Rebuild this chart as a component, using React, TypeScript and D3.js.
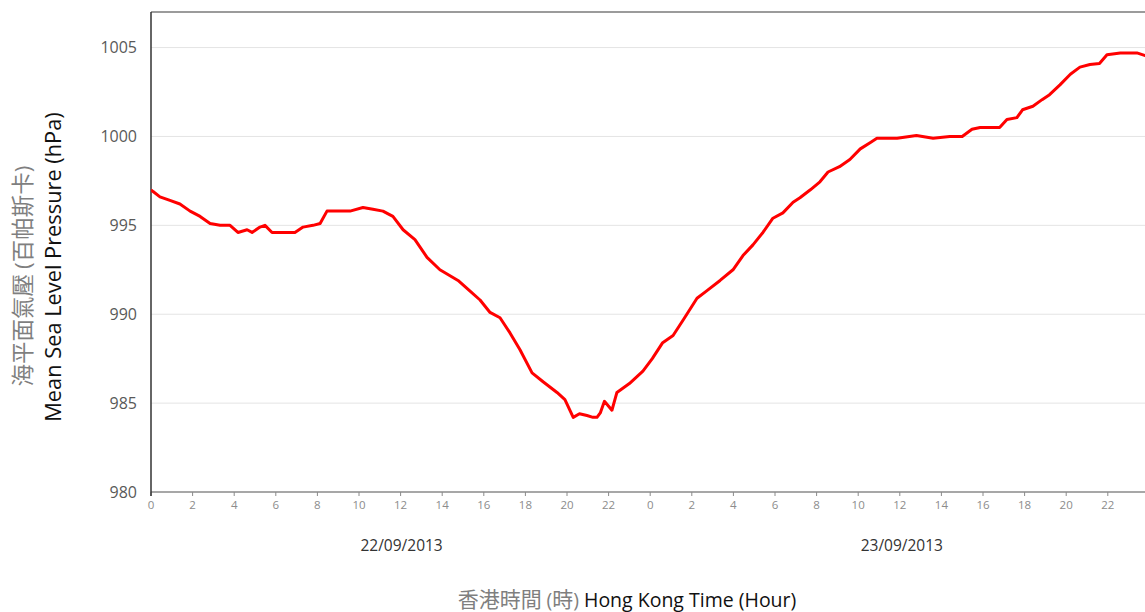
import React from "react";
import * as d3 from "d3";

// Hours since 00:00 22/09/2013 (HKT)
const hours = [
  0, 0.1, 0.43, 0.91, 1.39, 1.88, 2.36, 2.84, 3.32, 3.8, 4.18, 4.62, 4.86, 5.24, 5.48, 5.82, 6.35, 6.92, 7.31, 7.79, 8.13, 8.46, 8.94, 9.57, 10.19, 10.67, 11.15, 11.63, 12.12,
  12.69, 13.27, 13.89, 14.76, 15.34, 15.82, 16.3, 16.78, 17.26, 17.74, 18.32, 18.85, 19.52, 19.9, 20.3, 20.6, 20.96, 21.25, 21.44, 21.6, 21.8, 22.16, 22.4,
  23.0, 23.65, 24.1, 24.6, 25.1, 25.6, 26.25, 26.7, 27.36, 27.98, 28.46, 28.94, 29.42, 29.9, 30.38, 30.87, 31.2, 31.7, 32.16, 32.55, 33.1, 33.6, 34.1, 34.57, 34.9,
  35.87, 36.8, 37.6, 38.4, 39.0, 39.47, 39.86, 40.3, 40.8, 41.15, 41.63, 41.9, 42.4, 42.84, 43.2, 43.7, 44.2, 44.66, 45.14, 45.6, 45.96, 46.6, 47.4, 47.8, 48,
];
const pressure = [
  997.0, 996.9, 996.6, 996.4, 996.2, 995.8, 995.5, 995.1, 995.0, 995.0, 994.6, 994.75, 994.6, 994.9, 995.0, 994.6, 994.6, 994.6, 994.9, 995.0, 995.1, 995.8, 995.8, 995.8, 996.0, 995.9, 995.8, 995.5, 994.75,
  994.2, 993.2, 992.5, 991.9, 991.3, 990.8, 990.1, 989.8, 988.95, 988.0, 986.7, 986.2, 985.6, 985.2, 984.2, 984.4, 984.3, 984.2, 984.2, 984.45, 985.1, 984.6, 985.6,
  986.1, 986.8, 987.5, 988.4, 988.8, 989.7, 990.9, 991.3, 991.9, 992.5, 993.3, 993.9, 994.6, 995.4, 995.7, 996.3, 996.55, 997.0, 997.45, 998.0, 998.3, 998.7, 999.3, 999.65, 999.9,
  999.9, 1000.05, 999.9, 1000.0, 1000.0, 1000.4, 1000.5, 1000.5, 1000.5, 1000.95, 1001.06, 1001.5, 1001.7, 1002.07, 1002.35, 1002.9, 1003.5, 1003.9, 1004.05, 1004.1, 1004.6, 1004.7, 1004.7, 1004.55, 1004.55,
];

const yTicks = [980, 985, 990, 995, 1000, 1005];
const xTickHours = d3.range(0, 24, 2); // labels within each day
const days = [0, 1];
const dateLabels = ["22/09/2013", "23/09/2013"];

const W = 1145;
const H = 612;
const left = 151;
const top = 12;
const bottom = 492;

export default function App() {
  const x = d3.scaleLinear().domain([0, 48]).range([left, left + 48 * 20.8]);
  const y = d3.scaleLinear().domain([980, 1007]).range([bottom, top]);
  const pts = hours.map((h, i) => [h, pressure[i]] as [number, number]);
  const line = d3
    .line<[number, number]>()
    .x((d) => x(d[0]))
    .y((d) => y(d[1]))
    .curve(d3.curveLinear);

  const font = "'Open Sans', 'Liberation Sans', sans-serif";
  const cjk = "'Noto Sans CJK TC', 'Noto Sans', sans-serif";

  return (
    <div style={{ position: "absolute", left: 0, top: 0 }}>
      <svg width={W} height={H} style={{ display: "block", background: "#fff" }}>
        <defs>
          <clipPath id="plotclip">
            <rect x={left} y={top} width={W - left} height={bottom - top} />
          </clipPath>
        </defs>
        {/* gridlines */}
        {yTicks.slice(1).map((t) => (
          <line key={t} x1={left} x2={W} y1={y(t)} y2={y(t)} stroke="#e4e4e4" strokeWidth={1} />
        ))}
        {/* top border */}
        <line x1={left} x2={W} y1={top} y2={top} stroke="#7a7a7a" strokeWidth={1.5} />
        {/* bottom axis */}
        <line x1={left} x2={W} y1={bottom} y2={bottom} stroke="#8a8a8a" strokeWidth={1.5} />
        {days.map((dIdx) =>
          xTickHours.map((h) => (
            <g key={`${dIdx}-${h}`}>
              <line x1={x(h + 24 * dIdx)} x2={x(h + 24 * dIdx)} y1={bottom} y2={bottom + 4} stroke="#8a8a8a" strokeWidth={1} />
              <text x={x(h + 24 * dIdx)} y={509} fontSize={11.5} fill="#8c8c8c" textAnchor="middle" fontFamily={font}>{h}</text>
            </g>
          ))
        )}
        {/* left border */}
        <line x1={left} x2={left} y1={top} y2={bottom + 4} stroke="#333" strokeWidth={1.5} />
        {/* y tick labels */}
        {yTicks.map((t) => (
          <text key={t} x={137} y={y(t) + 5.5} fontSize={16} fill="#595959" textAnchor="end" fontFamily={font}>{t}</text>
        ))}
        {/* date labels */}
        {dateLabels.map((d, i) => (
          <text key={d} x={x(12 + 24 * i) + (i === 0 ? 1 : 2)} y={551} fontSize={15.5} fill="#333" textAnchor="middle" fontFamily={font}>{d}</text>
        ))}
        {/* data line */}
        <path d={line(pts) || ""} fill="none" stroke="#ff0000" strokeWidth={3} strokeLinejoin="round" clipPath="url(#plotclip)" />
        {/* y title */}
        <text transform="translate(31,276) rotate(-90)" textAnchor="middle" fontSize={22.5} fill="#7f7f7f" fontFamily={cjk}>
          <tspan>海平面氣壓 </tspan>
          <tspan fontFamily={font}>(</tspan>
          <tspan>百帕斯卡</tspan>
          <tspan fontFamily={font}>)</tspan>
        </text>
        <text transform="translate(61,267) rotate(-90)" textAnchor="middle" fontSize={21.8} fill="#111" fontFamily={font}>
          Mean Sea Level Pressure (hPa)
        </text>
        {/* x title */}
        <text x={627} y={607} textAnchor="middle" fontSize={19.5}>
          <tspan fill="#7f7f7f" fontFamily={cjk} fontSize={21}>香港時間 </tspan>
          <tspan fill="#7f7f7f" fontFamily={font}>(</tspan>
          <tspan fill="#7f7f7f" fontFamily={cjk} fontSize={21}>時</tspan>
          <tspan fill="#7f7f7f" fontFamily={font}>) </tspan>
          <tspan fill="#111" fontFamily={font}>Hong Kong Time (Hour)</tspan>
        </text>
      </svg>
    </div>
  );
}
